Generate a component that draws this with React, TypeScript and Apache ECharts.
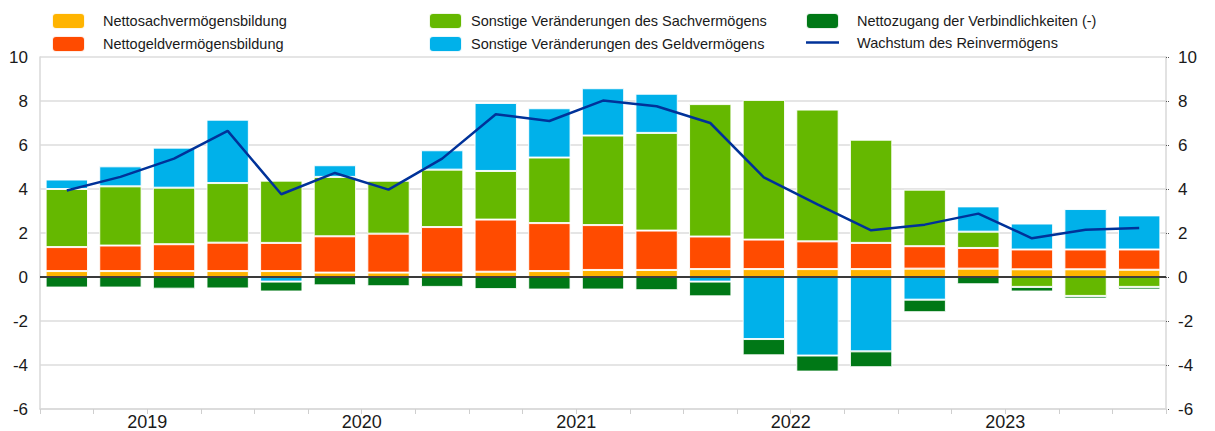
import React, { useEffect, useRef } from "react";
import * as echarts from "echarts";

const quarters = [
  "2019Q1", "2019Q2", "2019Q3", "2019Q4",
  "2020Q1", "2020Q2", "2020Q3", "2020Q4",
  "2021Q1", "2021Q2", "2021Q3", "2021Q4",
  "2022Q1", "2022Q2", "2022Q3", "2022Q4",
  "2023Q1", "2023Q2", "2023Q3", "2023Q4",
  "2024Q1",
];
const yearLabels = ["2019", "2020", "2021", "2022", "2023"];

const nettosach = [0.27, 0.27, 0.27, 0.27, 0.27, 0.2, 0.2, 0.2, 0.24, 0.27, 0.32, 0.32, 0.36, 0.36, 0.36, 0.36, 0.38, 0.38, 0.35, 0.35, 0.33];
const nettogeld = [1.09, 1.16, 1.22, 1.29, 1.28, 1.65, 1.77, 2.07, 2.37, 2.18, 2.04, 1.79, 1.48, 1.34, 1.26, 1.19, 1.02, 0.94, 0.9, 0.9, 0.92];
const sonstSach = [2.64, 2.69, 2.57, 2.71, 2.83, 2.7, 2.41, 2.61, 2.21, 2.98, 4.07, 4.44, 6.02, 6.35, 5.99, 4.69, 2.57, 0.74, -0.45, -0.86, -0.45];
const sonstGeld = [0.43, 0.91, 1.82, 2.88, -0.21, 0.53, 0, 0.88, 3.09, 2.24, 2.15, 1.78, -0.21, -2.82, -3.57, -3.38, -1.03, 1.15, 1.18, 1.84, 1.55];
const verbindl = [-0.48, -0.48, -0.53, -0.52, -0.45, -0.38, -0.42, -0.45, -0.55, -0.57, -0.57, -0.6, -0.67, -0.74, -0.73, -0.72, -0.57, -0.33, -0.21, -0.12, -0.12];
const wachstum = [3.93, 4.55, 5.38, 6.64, 3.76, 4.73, 3.97, 5.38, 7.4, 7.09, 8.02, 7.76, 7.0, 4.53, 3.3, 2.12, 2.38, 2.88, 1.76, 2.15, 2.23];

const names = [
  "Nettosachvermögensbildung",
  "Nettogeldvermögensbildung",
  "Sonstige Veränderungen des Sachvermögens",
  "Sonstige Veränderungen des Geldvermögens",
  "Nettozugang der Verbindlichkeiten (-)",
  "Wachstum des Reinvermögens",
];
const colors = ["#FFB400", "#FF4B00", "#65B800", "#00B1EA", "#007816", "#003299"];

const FONT = "'Liberation Sans', Arial, sans-serif";

export default function App() {
  const ref = useRef<HTMLDivElement>(null);
  useEffect(() => {
    if (!ref.current) return;
    const chart = echarts.init(ref.current, undefined, { renderer: "svg" });
    const barData = [nettosach, nettogeld, sonstSach, sonstGeld, verbindl];
    const textStyle = { fontFamily: FONT, fontSize: 14.5, color: "#1a1a1a" };
    const legendBase = {
      orient: "vertical" as const,
      top: 12,
      padding: 0,
      itemWidth: 33,
      itemHeight: 16,
      itemGap: 5,
      symbolKeepAspect: true,
    };
    chart.setOption({
      animation: false,
      textStyle: { fontFamily: FONT },
      legend: [
        { ...legendBase, left: 51, data: [names[0], names[1]], textStyle: { ...textStyle, padding: [0, 0, 0, 13] } },
        { ...legendBase, left: 428, data: [names[2], names[3]], textStyle: { ...textStyle, padding: [0, 0, 0, 4] } },
        {
          ...legendBase,
          left: 805,
          data: [names[4], { name: names[5], icon: "path://M0,0H33V2.5H0Z" }],
          textStyle: { ...textStyle, padding: [0, 0, 0, 13] },
        },
      ],
      grid: { left: 40, right: 49, top: 57, bottom: 22, containLabel: false },
      xAxis: [
        {
          type: "category",
          data: quarters,
          position: "bottom",
          axisLine: { onZero: false, show: true, lineStyle: { color: "#d9d9d9", width: 1.5 } },
          axisTick: { show: true, interval: 0, alignWithLabel: false, length: 5, lineStyle: { color: "#cfcfcf" } },
          axisLabel: { show: false },
          splitLine: { show: false },
        },
        {
          type: "value",
          min: 0,
          max: 21,
          interval: 2,
          position: "bottom",
          axisLine: { show: false },
          axisTick: { show: false },
          splitLine: { show: false },
          axisLabel: {
            margin: 4,
            fontSize: 18,
            color: "#1a1a1a",
            fontFamily: FONT,
            showMinLabel: true,
            showMaxLabel: true,
            formatter: (v: number) => {
              const i = (v - 2) / 4;
              return Number.isInteger(i) && yearLabels[i] ? yearLabels[i] : "";
            },
          },
        },
      ],
      yAxis: [
        {
          type: "value",
          min: -6,
          max: 10,
          interval: 2,
          position: "left",
          axisLine: { show: true, lineStyle: { color: "#d9d9d9", width: 1.5 } },
          axisTick: { show: false },
          axisLabel: { fontSize: 17, color: "#1a1a1a", margin: 12, fontFamily: FONT },
          splitLine: { show: true, lineStyle: { color: "#dcdcdc", width: 1.5 } },
        },
        {
          type: "value",
          min: -6,
          max: 10,
          interval: 2,
          position: "right",
          axisLine: { show: true, lineStyle: { color: "#d9d9d9", width: 1.5 } },
          axisTick: { show: true, length: 3, lineStyle: { color: "#555", type: "dotted" } },
          axisLabel: { fontSize: 17, color: "#1a1a1a", margin: 12, fontFamily: FONT },
          splitLine: { show: false },
        },
      ],
      series: [
        ...barData.map((d, i) => ({
          name: names[i],
          type: "bar",
          stack: "total",
          xAxisIndex: 0,
          yAxisIndex: 0,
          barCategoryGap: "21%",
          data: d,
          itemStyle: { color: colors[i], borderColor: "rgba(255,255,255,0.9)", borderWidth: 1 },
        })),
        {
          name: names[5],
          type: "line",
          xAxisIndex: 0,
          yAxisIndex: 0,
          data: wachstum,
          symbol: "none",
          showSymbol: false,
          z: 5,
          lineStyle: { color: colors[5], width: 2.5 },
          itemStyle: { color: colors[5] },
          markLine: {
            silent: true,
            symbol: ["none", "none"],
            label: { show: false },
            lineStyle: { color: "#000", width: 1.5, type: "solid" },
            data: [{ yAxis: 0 }],
          },
        },
      ],
    });
    return () => chart.dispose();
  }, []);
  return (
    <div
      ref={ref}
      style={{ position: "absolute", left: 0, top: 0, width: 1215, height: 431, background: "#fff" }}
    />
  );
}
